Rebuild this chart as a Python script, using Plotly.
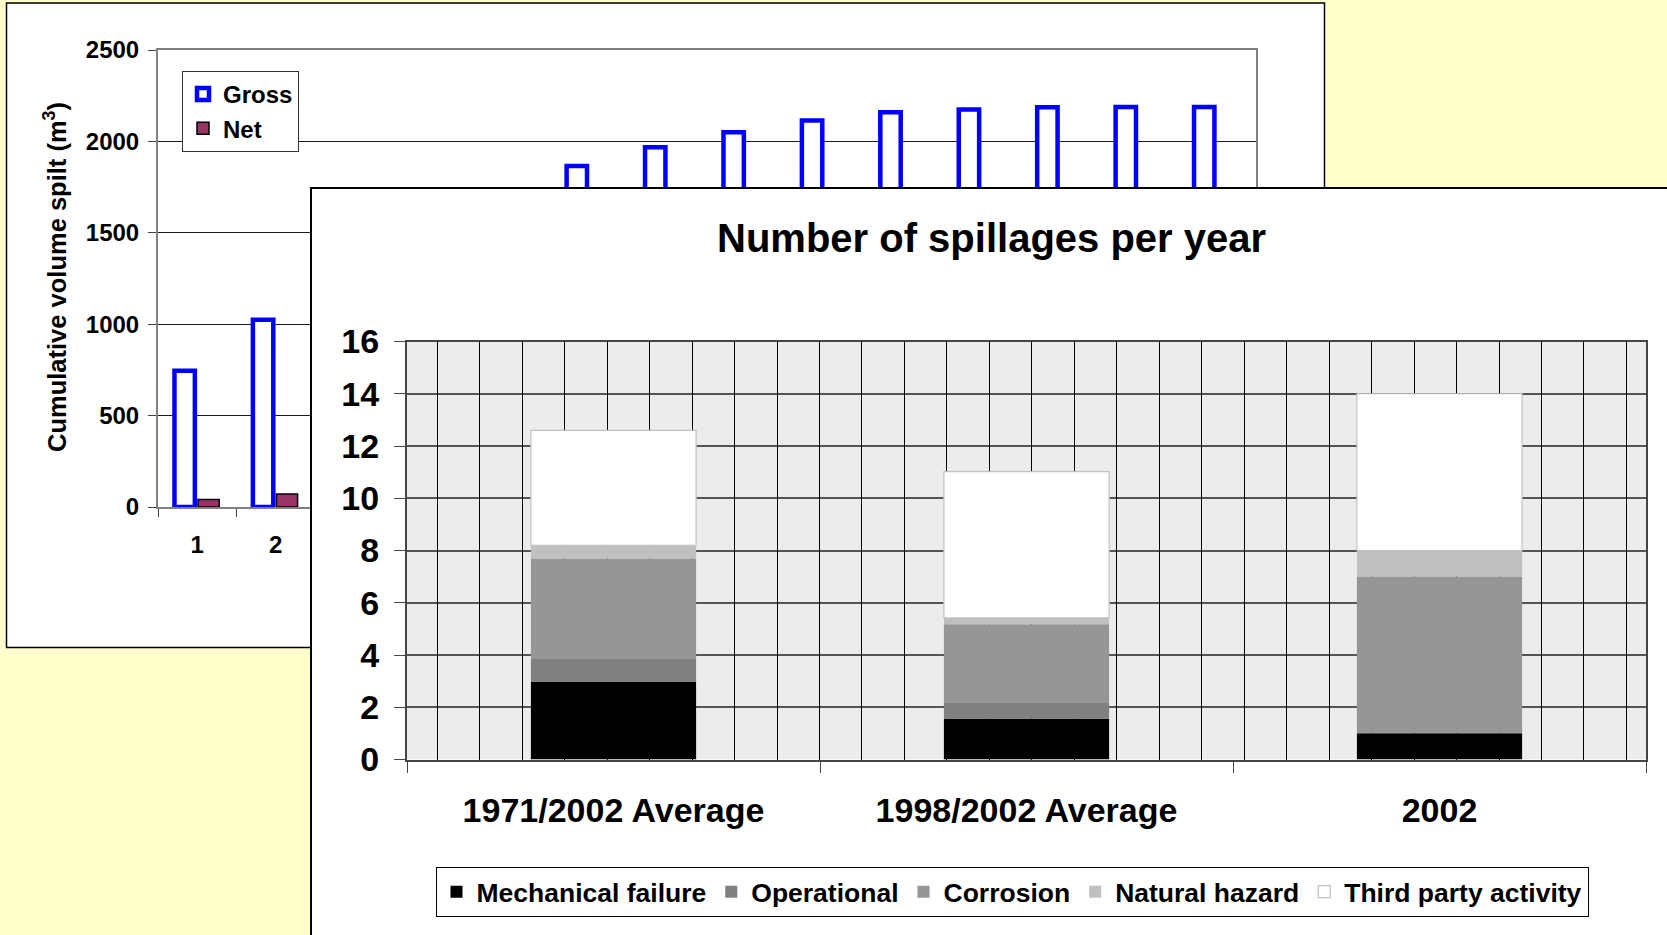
import plotly.graph_objects as go

W, H = 1667, 935

# ---------------- Background chart: cumulative volume spilt ----------------
cum_categories = [str(i) for i in range(1, 15)]
gross_volume = [745, 1024, 1330, 1550, 1720, 1865, 1968, 2050, 2115, 2159, 2175, 2187, 2188, 2188]
net_volume = [41, 71, 95, 110, 120, 128, 133, 136, 138, 139, 140, 140, 140, 140]
cum_yticks = [0, 500, 1000, 1500, 2000, 2500]
# only the first two category labels are visible (the rest lie under the front card)
cum_visible_ticks = cum_categories[:2]

# ---------------- Foreground chart: number of spillages per year ----------------
periods = ["1971/2002 Average", "1998/2002 Average", "2002"]
mechanical_failure = [2.97, 1.56, 1.0]
operational = [0.88, 0.60, 0.0]
corrosion = [3.84, 3.02, 6.0]
natural_hazard = [0.51, 0.24, 1.0]
third_party_activity = [4.40, 5.60, 6.0]
spill_yticks = [0, 2, 4, 6, 8, 10, 12, 14, 16]

FONT = "Liberation Sans, Arial, sans-serif"


def px(x):
    return x / W


def py(y):
    return 1 - y / H


fig = go.Figure()

# background chart bars
fig.add_trace(go.Bar(
    x=cum_categories, y=gross_volume, name="Gross", width=0.26, offset=-0.29,
    marker=dict(color="white", line=dict(color="#0000FF", width=4.5)),
    xaxis="x", yaxis="y", legend="legend2",
))
fig.add_trace(go.Bar(
    x=cum_categories, y=net_volume, name="Net", width=0.27, offset=0.01,
    marker=dict(color="#993366", line=dict(color="black", width=1.5)),
    xaxis="x", yaxis="y", legend="legend2",
))

# empty helper trace so the white card subplot (x2/y2) is created
fig.add_trace(go.Scatter(x=[None], y=[None], mode="markers", xaxis="x2", yaxis="y2",
                         showlegend=False, hoverinfo="skip"))

# foreground stacked bars (explicit bases, derived from the values)
series = [
    ("Mechanical failure", mechanical_failure, "#000000", "#000000", 0),
    ("Operational", operational, "#808080", "#808080", 0),
    ("Corrosion", corrosion, "#969696", "#969696", 0),
    ("Natural hazard", natural_hazard, "#C0C0C0", "#C0C0C0", 0),
    ("Third party activity", third_party_activity, "#FFFFFF", "#C0C0C0", 1.2),
]
base = [0.0] * len(periods)
for name, vals, color, lcolor, lwidth in series:
    fig.add_trace(go.Bar(
        x=periods, y=vals, base=list(base), name=name, width=0.4,
        marker=dict(color=color, line=dict(color=lcolor, width=lwidth)),
        xaxis="x3", yaxis="y3", legend="legend",
    ))
    base = [b + v for b, v in zip(base, vals)]

# empty helper trace so the overlay axis carrying the fine vertical grid is drawn
fig.add_trace(go.Scatter(x=[None], y=[None], mode="markers", xaxis="x4", yaxis="y3",
                         showlegend=False, hoverinfo="skip"))

hidden_axis = dict(range=[0, 1], showgrid=False, zeroline=False, showticklabels=False,
                   ticks="", fixedrange=True)

fig.update_layout(
    width=W, height=H, autosize=False,
    margin=dict(l=0, r=0, t=0, b=0, pad=0, autoexpand=False),
    paper_bgcolor="#FFFFCC", plot_bgcolor="white",
    barmode="overlay",
    font=dict(family=FONT, color="black"),
    showlegend=True,
    # background chart axes
    xaxis=dict(domain=[px(158), px(1256)], anchor="y", type="category",
               range=[-0.5, len(cum_categories) - 0.5],
               tickvals=cum_visible_ticks, ticktext=cum_visible_ticks,
               tickson="boundaries", ticks="outside", ticklen=8, tickcolor="#444",
               showline=True, linecolor="#808080", linewidth=2, mirror=True,
               showgrid=False, zeroline=False, automargin=False,
               tickfont=dict(family=FONT, size=24, weight="bold"), ticklabelstandoff=15),
    yaxis=dict(domain=[py(507), py(50)], anchor="x", range=[0, 2500],
               tickvals=cum_yticks, ticks="outside", ticklen=8, tickcolor="#444",
               showline=True, linecolor="#808080", linewidth=2, mirror=True,
               showgrid=True, gridcolor="#1a1a1a", gridwidth=1, zeroline=False, automargin=False,
               tickfont=dict(family=FONT, size=24, weight="bold"), ticklabelstandoff=4),
    # foreground panel (white card)
    xaxis2=dict(domain=[px(311.5), 1.0], anchor="y2", side="top", automargin=False,
                showline=True, linecolor="black", linewidth=1.5, **hidden_axis),
    yaxis2=dict(domain=[0.0, py(188.5)], anchor="x2", automargin=False,
                showline=True, linecolor="black", linewidth=1.5, **hidden_axis),
    # foreground chart axes
    xaxis3=dict(domain=[px(407), px(1646)], anchor="y3", type="category",
                range=[-0.5, len(periods) - 0.5],
                tickson="boundaries", ticks="outside", ticklen=11, tickcolor="#444",
                showline=True, linecolor="#444", linewidth=2, mirror=True,
                showgrid=False, zeroline=False, automargin=False,
                tickfont=dict(family=FONT, size=34, weight="bold"), ticklabelstandoff=20),
    yaxis3=dict(domain=[py(759.5), py(341.5)], anchor="x3", range=[0, 16],
                tickvals=spill_yticks, ticks="outside", ticklen=11, tickcolor="#444",
                showline=True, linecolor="#444", linewidth=2, mirror=True,
                showgrid=True, gridcolor="#555555", gridwidth=2, zeroline=False, automargin=False,
                tickfont=dict(family=FONT, size=34, weight="bold"), ticklabelstandoff=8),
    # overlay axis providing the fine vertical grid of the patterned plot area
    xaxis4=dict(overlaying="x3", anchor="y3", range=[-0.713, 28.46], tick0=0, dtick=1,
                showgrid=True, gridcolor="black", gridwidth=1, zeroline=False, automargin=False,
                showticklabels=False, ticks="", showline=False, fixedrange=True),
    legend=dict(orientation="h", x=px(1012), xanchor="center", y=py(892), yanchor="middle",
                bordercolor="black", borderwidth=1, bgcolor="white", traceorder="normal",
                font=dict(family=FONT, size=26.5, weight="bold")),
    legend2=dict(x=px(182), xanchor="left", y=py(71), yanchor="top",
                 bordercolor="#333333", borderwidth=1, bgcolor="white", traceorder="normal",
                 font=dict(family=FONT, size=24, weight="bold")),
    shapes=[
        dict(type="rect", xref="paper", yref="paper", x0=px(6.5), x1=px(1324.5),
             y0=py(647.5), y1=py(3), fillcolor="white",
             line=dict(color="black", width=1.5), layer="below"),
        dict(type="rect", xref="x3", yref="y3", x0=-0.5, x1=len(periods) - 0.5,
             y0=spill_yticks[0], y1=spill_yticks[-1], fillcolor="#ececec",
             line=dict(width=0), layer="below"),
    ],
    annotations=[
        dict(text="<b>Number of spillages per year</b>", xref="paper", yref="paper",
             x=px(991), y=py(238), xanchor="center", yanchor="middle", showarrow=False,
             font=dict(family=FONT, size=40, color="black")),
        dict(text="<b>Cumulative volume spilt (m<sup>3</sup>)</b>", xref="paper", yref="paper",
             x=px(55), y=py(277), xanchor="center", yanchor="middle", showarrow=False,
             textangle=-90, font=dict(family=FONT, size=25.5, color="black")),
    ],
)

fig.write_html("out.html", config={"displayModeBar": False},
               post_script="document.body.style.margin='0px';")
